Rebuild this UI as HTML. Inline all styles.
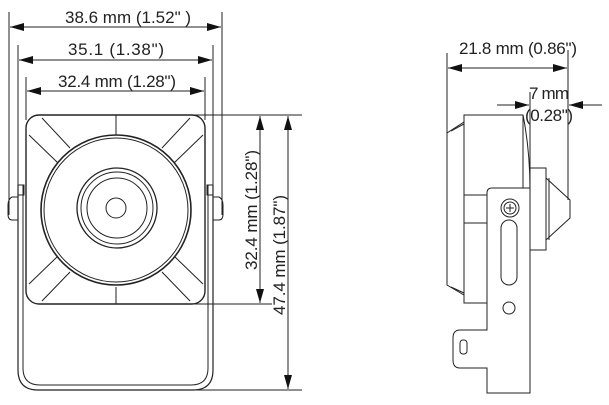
<!DOCTYPE html>
<html><head><style>
html,body{margin:0;padding:0;background:#fff;}
svg{display:block;}
text{font-family:"Liberation Sans",sans-serif;fill:#222;}
</style></head><body>
<svg width="609" height="405" viewBox="0 0 609 405" xmlns="http://www.w3.org/2000/svg">
<defs>
<marker id="a" markerWidth="14" markerHeight="8" refX="14" refY="4" orient="auto-start-reverse" markerUnits="userSpaceOnUse">
<path d="M0,0 L14,4 L0,8 Z" fill="#111"/></marker>
</defs>
<g stroke="#222" fill="none" stroke-width="1">
<line x1="9" y1="12" x2="9" y2="215"/><line x1="222" y1="12" x2="222" y2="215"/>
<line x1="10" y1="27" x2="221" y2="27" marker-start="url(#a)" marker-end="url(#a)"/>
<line x1="18" y1="45" x2="18" y2="190"/><line x1="213" y1="45" x2="213" y2="190"/>
<line x1="19" y1="60" x2="212" y2="60" marker-start="url(#a)" marker-end="url(#a)"/>
<line x1="26" y1="77" x2="26" y2="120"/><line x1="205" y1="77" x2="205" y2="120"/>
<line x1="27" y1="91" x2="204" y2="91" marker-start="url(#a)" marker-end="url(#a)"/>
<path d="M18,185 V370 Q18,390 38,390 H193 Q213,390 213,370 V185" stroke-width="1.2"/>
<path d="M23,185 V368 Q23,385 40,385 H191 Q208,385 208,368 V185"/>
<rect x="18" y="185" width="6" height="10"/><rect x="207" y="185" width="6" height="10"/>
<path d="M18,197 H12 Q8,199 8,205 V214 Q8,220 12,220 H18"/>
<path d="M213,197 H219 Q223,199 223,205 V214 Q223,220 219,220 H213"/>
<rect x="26" y="115" width="179" height="189" rx="13" fill="#fff" stroke-width="1.4"/>
<line x1="116" y1="115" x2="116" y2="135"/><line x1="116" y1="287" x2="116" y2="304"/>
<line x1="42" y1="118" x2="70" y2="148"/><line x1="29" y1="135" x2="58" y2="163"/>
<line x1="190" y1="118" x2="162" y2="148"/><line x1="203" y1="135" x2="174" y2="163"/>
<line x1="42" y1="301" x2="70" y2="272"/><line x1="29" y1="284" x2="58" y2="256"/>
<line x1="190" y1="301" x2="162" y2="272"/><line x1="203" y1="284" x2="174" y2="256"/>
<circle cx="116" cy="210" r="75" fill="#fff" stroke-width="1.6"/>
<circle cx="116" cy="210" r="72"/>
<circle cx="117" cy="208" r="40" stroke-width="1.3"/>
<circle cx="117" cy="208" r="36"/>
<circle cx="117" cy="208" r="30"/>
<circle cx="116" cy="208" r="10"/>
<line x1="190" y1="115" x2="302" y2="115"/>
<line x1="190" y1="304" x2="272" y2="304"/>
<line x1="190" y1="390" x2="302" y2="390"/>
<line x1="260" y1="116" x2="260" y2="303" marker-start="url(#a)" marker-end="url(#a)"/>
<line x1="288" y1="116" x2="288" y2="389" marker-start="url(#a)" marker-end="url(#a)"/>
<line x1="447" y1="53" x2="447" y2="135"/><line x1="568" y1="50" x2="568" y2="200"/>
<line x1="448" y1="68" x2="567" y2="68" marker-start="url(#a)" marker-end="url(#a)"/>
<line x1="530" y1="92" x2="530" y2="170"/>
<line x1="497" y1="105" x2="529" y2="105" marker-end="url(#a)"/>
<line x1="602" y1="105" x2="569" y2="105" marker-end="url(#a)"/>
<path d="M447,133 L464,122 V295 L447,285 Z"/>
<line x1="451" y1="131" x2="464" y2="124"/><line x1="451" y1="287" x2="464" y2="293"/>
<rect x="464" y="115" width="59" height="188"/>
<path d="M523,115 Q530,150 530,190"/>
<rect x="530" y="168" width="16" height="82"/>
<path d="M546,178 L570,200 V218 L546,240 Z"/>
<line x1="549" y1="178" x2="549" y2="240"/>
<line x1="464" y1="195" x2="487" y2="195"/><line x1="464" y1="223" x2="487" y2="223"/>
<path d="M487,193 Q487,188 492,188 H530 V393 H487 V368 H460 Q453,368 453,360 V338 Q453,330 460,330 H487 Z" fill="#fff"/>
<circle cx="510" cy="208" r="9"/><circle cx="510" cy="208" r="6"/>
<path d="M506,208 H514 M510,204 V212"/>
<rect x="501" y="220" width="16" height="65" rx="8"/>
<circle cx="509" cy="308" r="6"/>
<rect x="460" y="340" width="7" height="14" rx="3"/>
</g>
<g font-size="17">
<text x="128" y="23" text-anchor="middle" textLength="126">38.6 mm  (1.52" )</text>
<text x="116" y="55" text-anchor="middle" textLength="96">35.1 (1.38")</text>
<text x="117" y="87" text-anchor="middle" textLength="118">32.4 mm (1.28")</text>
<text transform="translate(257,210) rotate(-90)" text-anchor="middle" textLength="120">32.4 mm (1.28")</text>
<text transform="translate(285,255) rotate(-90)" text-anchor="middle" textLength="120">47.4 mm (1.87")</text>
<text x="518" y="54" text-anchor="middle" textLength="118">21.8 mm (0.86")</text>
<text x="529" y="99" textLength="40">7 mm</text>
<text x="525" y="121" textLength="48">(0.28")</text>
</g>
</svg>
</body></html>
